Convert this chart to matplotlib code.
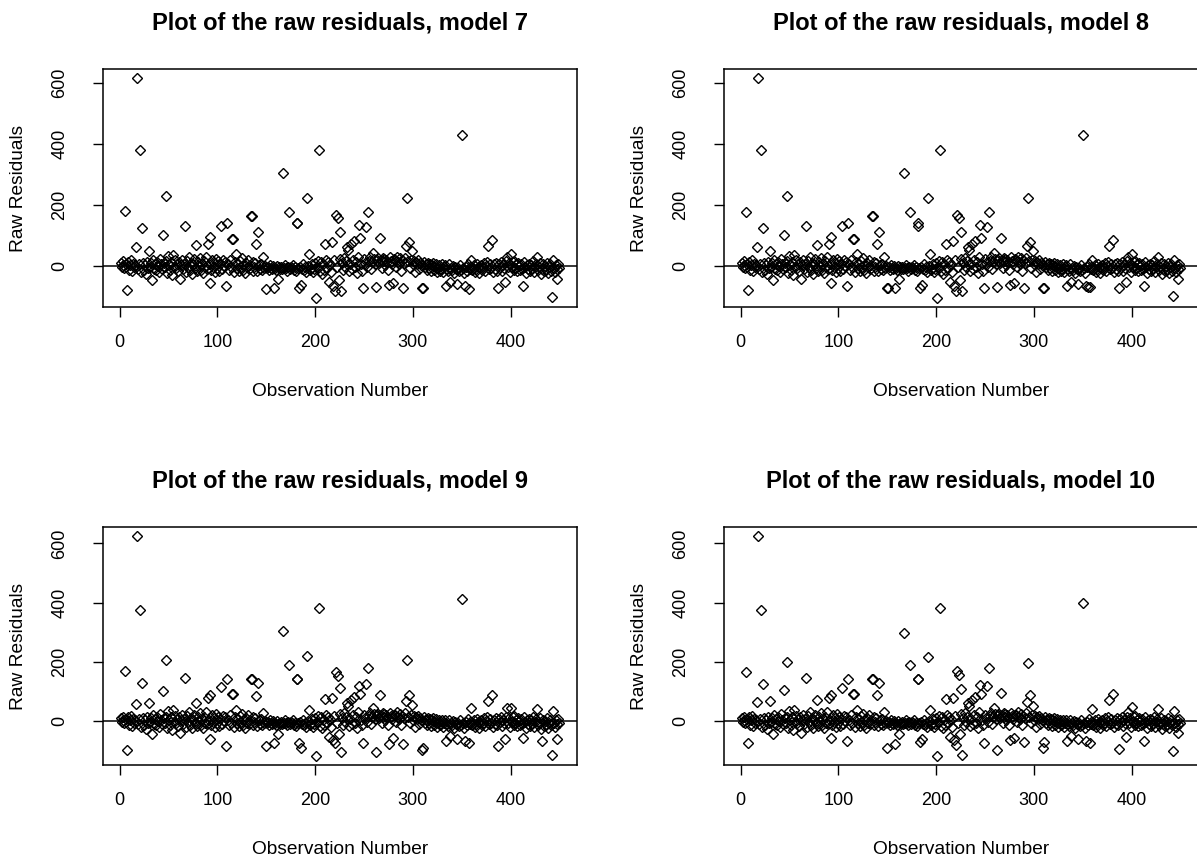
import matplotlib
matplotlib.use('Agg')
import matplotlib.pyplot as plt

plt.rcParams['font.family'] = ['Liberation Sans', 'DejaVu Sans']

# raw residuals of model 7, observation 1..450
resid_7 = [
    8, -4, 14, 2, -9, 180, 5, -81, 11, -13, 3, 17, -18, 7, -6,
    3, 63, 618, -11, 6, 380, -22, 123, 10, -14, 1, -28, 13, -7, 47,
    -4, 8, -46, 18, -10, 5, -15, 12, -2, -20, 22, 4, -12, 102, 9,
    -6, 230, 14, -24, 33, 3, -15, 11, -30, 35, -5, 17, -9, 6, -18,
    13, -43, 2, 20, -11, 7, 131, -22, 15, -4, 28, -13, 9, -26, 4,
    21, -8, 69, -17, 12, -1, 25, -14, 6, -23, 14, -6, 30, -10, 71,
    4, -57, 93, -13, 19, -4, 9, -21, 23, -7, 14, -17, 6, 131, -11,
    17, -2, 11, -67, 140, 4, -15, 20, -6, 89, 89, -22, 12, 37, -9,
    7, -18, 15, -3, 24, -13, 5, -25, 10, -6, 19, -11, 3, 162, 162,
    -16, 13, -4, 8, 72, -19, 112, 2, -10, 6, -14, 29, -7, -2, -78,
    -9, -4, -13, 1, -7, -11, -2, -72, -8, -14, 0, -45, -6, -10, -4,
    -12, 305, -7, 3, -9, -16, -5, 177, -11, -3, -8, 2, -14, -6, -18,
    141, 141, -9, -73, -4, -63, -11, 4, -15, -6, -22, 222, -2, 37, -13,
    -7, 6, -20, -10, 9, -107, -4, 16, 380, -17, 11, -26, 4, -14, 72,
    20, -9, 12, -55, 6, -22, 78, -66, 17, -83, 166, -6, 156, -46, 22,
    112, -83, 10, -14, 25, -3, 14, 61, 51, -19, 7, 71, -11, 18, 81,
    -6, 13, -23, 29, 133, 91, 4, -16, -75, 21, 9, 127, -4, 177, 16,
    27, -10, 12, 43, 22, 6, -70, 18, 24, 9, 92, 19, -7, 26, 14,
    23, 3, 20, 11, -13, -64, 27, 16, 7, -58, 21, 19, -4, 30, 13,
    6, 24, -16, 17, -72, 10, 25, 65, 222, 14, 78, -9, 19, 48, 4,
    15, -21, 11, 6, 17, -12, 8, 1, -75, -72, 12, -6, 7, -14, 4,
    10, -9, 5, -18, 2, 9, -13, -4, 6, -20, -7, 3, -16, -10, 4,
    -22, -6, 1, -67, -12, -17, 4, -53, -8, -14, 0, -25, -4, -11, -61,
    -7, -19, 2, -13, 430, -9, -23, -67, -3, -16, 6, -76, -10, -5, 19,
    -14, -7, 3, -20, -11, 7, -4, -24, -9, 1, -14, -6, 9, -17, -2,
    12, 65, -12, 5, -8, 83, -21, 4, -10, 10, -16, -72, 6, -4, 13,
    -18, 2, -9, -55, 14, 30, -6, 8, -22, 40, -3, 11, -13, 16, -8,
    4, -19, 9, -1, -14, 6, -10, -67, 12, -5, -25, 3, -12, 7, -17,
    1, -9, 14, -22, -4, 6, 29, -15, -6, 9, -28, -11, 4, -19, -2,
    -14, 10, -24, -6, 4, -16, -102, 19, -9, -20, 2, -43, -11, 5, -7,
]

# observations whose residual differs for the other models
changes_8 = {6: 178, 150: -72, 151: -75, 181: 130, 217: 80, 355: -70,
             357: -70, 442: -100}
changes_9 = {6: 170, 8: -98, 17: 55, 18: 626, 21: 376, 23: 128, 30: 60,
             44: 99, 47: 206, 67: 145, 78: 60, 90: 77, 92: -63, 93: 86,
             104: 114, 109: -87, 134: 140, 135: 140, 140: 84, 142: 128,
             147: 26, 150: -86, 158: -75, 167: 303, 173: 187, 181: 140,
             182: 140, 184: -75, 186: -93, 192: 218, 201: -120, 204: 382,
             220: -75, 221: 164, 223: 153, 226: 111, 227: -107, 245: 117,
             249: -75, 252: 126, 254: 179, 262: -107, 266: 88, 276: -80,
             290: -80, 293: 66, 294: 205, 296: 88, 299: 54, 309: -99,
             310: -93, 350: 411, 360: 43, 377: 68, 381: 88, 387: -87,
             394: -62, 396: 43, 400: 43, 413: -57, 427: 40, 432: -70,
             442: -116, 443: 34, 447: -62}
changes_10 = {6: 165, 8: -77, 17: 62, 18: 626, 21: 376, 23: 125, 30: 68,
              44: 103, 47: 200, 67: 145, 90: 78, 93: 87, 104: 110,
              134: 140, 135: 140, 140: 88, 142: 128, 150: -91, 158: -80,
              167: 296, 173: 187, 181: 140, 182: 140, 192: 217, 201: -120,
              204: 382, 221: 168, 223: 155, 226: 109, 227: -115, 245: 120,
              252: 118, 254: 177, 262: -99, 266: 93, 293: 63, 294: 196,
              296: 88, 299: 50, 309: -91, 350: 400, 360: 40, 377: 70,
              381: 90, 387: -95, 400: 45, 427: 40, 442: -102, 443: 34}

model_names = ["7", "8", "9", "10"]


def residuals(changes):
    r = list(resid_7)
    for obs, val in changes.items():
        r[obs - 1] = val
    return r


series = [resid_7, residuals(changes_8), residuals(changes_9),
          residuals(changes_10)]

W, H = 1197, 864
fig = plt.figure(figsize=(W / 100, H / 100), dpi=100)

# plot boxes in pixels: left, top, width, height
boxes = [(103, 69, 474, 238), (724, 69, 474, 238),
         (103, 527, 474, 238), (724, 527, 474, 238)]


def rlim(lo, hi):
    ext = 0.04 * (hi - lo)
    return lo - ext, hi + ext


for (left, top, bw, bh), name, y in zip(boxes, model_names, series):
    ax = fig.add_axes([left / W, 1 - (top + bh) / H, bw / W, bh / H])
    x = list(range(1, len(y) + 1))
    ax.plot(x, y, linestyle='none', marker='D', ms=4.6, mfc='none',
            mec='black', mew=1.0)
    ax.axhline(0, color='black', lw=1.1)
    ax.set_xlim(*rlim(1, len(y)))
    ax.set_ylim(*rlim(min(y), max(y)))
    ax.set_xticks([0, 100, 200, 300, 400])
    ax.set_yticks([0, 200, 400, 600])
    ax.tick_params(direction='out', length=7, width=1, color='black',
                   labelsize=13)
    ax.tick_params(axis='x', pad=12.5)
    ax.tick_params(axis='y', pad=18)
    for lab in ax.get_yticklabels():
        lab.set_rotation(90)
        lab.set_va('center')
    for s in ax.spines.values():
        s.set_linewidth(1.1)
        s.set_color('black')
    ax.text(0.5, 1 + 46 / bh, f"Plot of the raw residuals, model {name}",
            transform=ax.transAxes, ha='center', va='center',
            fontsize=17, fontweight='bold')
    ax.set_xlabel("Observation Number", fontsize=13.8)
    ax.set_ylabel("Raw Residuals", fontsize=13.8)
    ax.xaxis.set_label_coords(0.5, -0.353)
    ax.xaxis.label.set_va('center')
    ax.yaxis.set_label_coords(-0.179, 0.5)
    ax.yaxis.label.set_va('center')

fig.savefig("out.png", dpi=100)
